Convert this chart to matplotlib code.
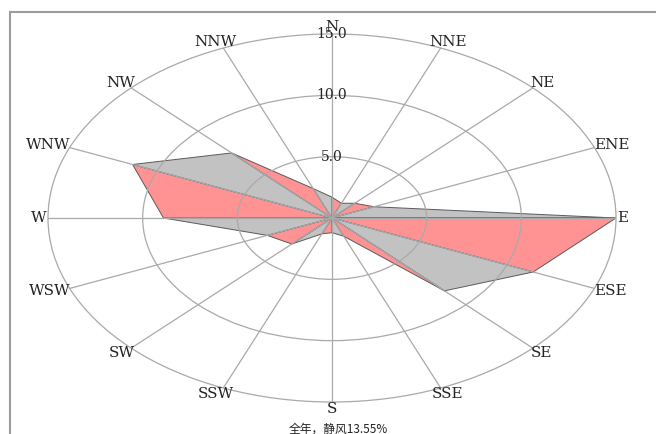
import numpy as np
import matplotlib
matplotlib.use('Agg')
import matplotlib.pyplot as plt
from matplotlib.lines import Line2D

# ---- data ----
directions = ['N', 'NNE', 'NE', 'ENE', 'E', 'ESE', 'SE', 'SSE',
              'S', 'SSW', 'SW', 'WSW', 'W', 'WNW', 'NW', 'NNW']
frequencies = [1.7, 1.3, 1.7, 2.4, 15.0, 11.5, 8.4, 1.6,
               1.2, 1.4, 3.0, 3.7, 8.9, 11.4, 7.5, 2.6]
ring_values = [5, 10, 15]
ring_labels = ['5.0', '10.0', '15.0']
caption = '全年，静风13.55%'

W, H = 656, 434
fig = plt.figure(figsize=(W / 100, H / 100), dpi=100)

cx, cy = 332, 218
rx, ry = 284, 184
ax = fig.add_axes([(cx - rx) / W, (H - cy - ry) / H, 2 * rx / W, 2 * ry / H],
                  projection='polar')
ax.set_aspect('auto')
ax.set_theta_zero_location('N')
ax.set_theta_direction(-1)
ax.set_ylim(0, max(ring_values))

n = len(directions)
theta = np.deg2rad(np.arange(n) * 360.0 / n)

pink = '#ff9393'
gray = '#c2c2c2'
for i in range(n):
    j = (i + 1) % n
    ax.fill([theta[i], theta[j], 0], [frequencies[i], frequencies[j], 0],
            facecolor=pink if i % 2 == 0 else gray,
            edgecolor='#5a5a5a', linewidth=0.7, zorder=1)

grid_color = '#a9a9a9'
ax.set_thetagrids(np.rad2deg(theta), labels=[''] * n)
ax.set_rgrids(ring_values[:-1], labels=[''] * (len(ring_values) - 1))
ax.grid(True, color=grid_color, linewidth=0.9)
ax.set_axisbelow(False)
ax.spines['polar'].set_color(grid_color)
ax.spines['polar'].set_linewidth(0.9)
ax.tick_params(length=0)

for r, lab in zip(ring_values, ring_labels):
    ax.text(0, r, lab, ha='center', va='center', fontfamily='DejaVu Serif',
            fontsize=10, color='#222222', zorder=5)

texts = []
for th, name in zip(theta, directions):
    t = ax.annotate(name, xy=(th, max(ring_values)), xytext=(0, 0),
                    textcoords='offset pixels', ha='center', va='center',
                    fontfamily='DejaVu Serif', fontsize=11, color='#222222',
                    annotation_clip=False, zorder=5)
    texts.append(t)

fig.canvas.draw()
renderer = fig.canvas.get_renderer()
for t, th in zip(texts, theta):
    bb = t.get_window_extent(renderer)
    t.set_position((bb.width / 2 * np.sin(th) + 1 * np.sin(th),
                    bb.height / 2 * np.cos(th)))

fig.text(338 / W, (H - 429) / H, caption, ha='center', va='center',
         fontfamily=['Noto Sans CJK SC', 'DejaVu Sans'], fontsize=8.5,
         color='#222222')

fig.add_artist(Line2D([10 / W, 1], [1 - 11.5 / H] * 2, transform=fig.transFigure,
                      color='#9c9c9c', linewidth=1.5))
fig.add_artist(Line2D([10 / W] * 2, [0, 1 - 11.5 / H], transform=fig.transFigure,
                      color='#9c9c9c', linewidth=1.5))

fig.savefig('out.png', dpi=100)
